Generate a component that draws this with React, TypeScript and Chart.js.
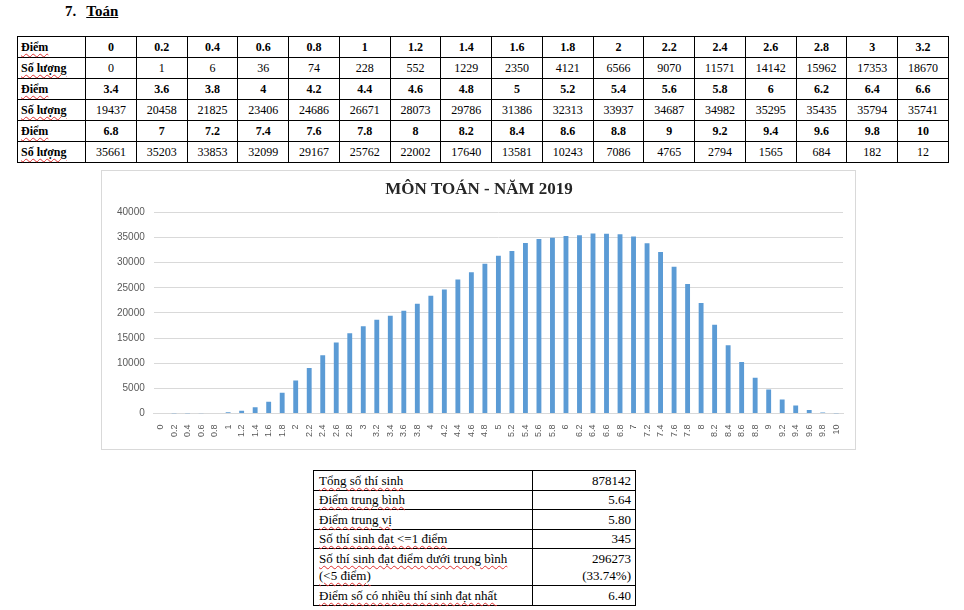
import React, { useEffect, useRef } from "react";
import { Chart, registerables } from "chart.js";

Chart.register(...registerables);

const headingNumber = "7.";
const headingText = "Toán";
const chartTitle = "MÔN TOÁN - NĂM 2019";
const rowLabelScore = "Điểm";
const rowLabelCount = "Số lượng";

const scoreLabels = [
  "0", "0.2", "0.4", "0.6", "0.8", "1", "1.2", "1.4", "1.6", "1.8", "2", "2.2", "2.4", "2.6", "2.8", "3", "3.2",
  "3.4", "3.6", "3.8", "4", "4.2", "4.4", "4.6", "4.8", "5", "5.2", "5.4", "5.6", "5.8", "6", "6.2", "6.4", "6.6",
  "6.8", "7", "7.2", "7.4", "7.6", "7.8", "8", "8.2", "8.4", "8.6", "8.8", "9", "9.2", "9.4", "9.6", "9.8", "10",
];

const studentCounts = [
  0, 1, 6, 36, 74, 228, 552, 1229, 2350, 4121, 6566, 9070, 11571, 14142, 15962, 17353, 18670,
  19437, 20458, 21825, 23406, 24686, 26671, 28073, 29786, 31386, 32313, 33937, 34687, 34982, 35295, 35435, 35794, 35741,
  35661, 35203, 33853, 32099, 29167, 25762, 22002, 17640, 13581, 10243, 7086, 4765, 2794, 1565, 684, 182, 12,
];

const yTickMax = 40000;
const yTickStep = 5000;

const summaryLabels = [
  ["Tổng số thí sinh"],
  ["Điểm trung bình"],
  ["Điểm trung vị"],
  ["Số thí sinh đạt <=1 điểm"],
  ["Số thí sinh đạt điểm dưới trung bình", "(<5 điểm)"],
  ["Điểm số có nhiều thí sinh đạt nhất"],
];
const summaryValues = [
  ["878142"],
  ["5.64"],
  ["5.80"],
  ["345"],
  ["296273", "(33.74%)"],
  ["6.40"],
];

const COLS_PER_BLOCK = 17;

const squiggle: React.CSSProperties = {
  textDecorationLine: "underline",
  textDecorationStyle: "wavy",
  textDecorationColor: "#e03030",
  textDecorationThickness: "1px",
  textUnderlineOffset: "2px",
};

const serif = '"Liberation Serif", "Times New Roman", serif';
const sans = '"Liberation Sans", Arial, sans-serif';

function ChartBox() {
  const ref = useRef<HTMLCanvasElement | null>(null);
  useEffect(() => {
    if (!ref.current) return;
    const chart = new Chart(ref.current, {
      type: "bar",
      data: {
        labels: scoreLabels,
        datasets: [
          {
            data: studentCounts,
            backgroundColor: "#5B9BD5",
            barPercentage: 0.36,
            categoryPercentage: 1,
          },
        ],
      },
      options: {
        animation: false,
        responsive: true,
        maintainAspectRatio: false,
        layout: { padding: { left: 13, right: 12, top: 0, bottom: 1 } },
        plugins: {
          legend: { display: false },
          tooltip: { enabled: false },
          title: {
            display: true,
            text: chartTitle,
            color: "#262626",
            font: { family: serif, size: 17, weight: "bold" },
            padding: { top: 8, bottom: 13 },
          },
        },
        scales: {
          x: {
            grid: { display: false, drawTicks: false },
            border: { display: true, color: "#d9d9d9" },
            afterFit: (scale: any) => {
              scale.paddingLeft = 0;
              scale.paddingRight = 0;
            },
            ticks: {
              autoSkip: false,
              maxRotation: 90,
              minRotation: 90,
              color: "#595959",
              padding: 11,
              font: { family: sans, size: 9 },
            },
          },
          y: {
            min: 0,
            max: yTickMax,
            border: { display: false },
            grid: { color: "#d9d9d9", drawTicks: false },
            afterFit: (scale: any) => {
              scale.width = Math.max(0, scale.width - 7);
            },
            ticks: {
              stepSize: yTickStep,
              color: "#595959",
              padding: 9,
              font: { family: sans, size: 10 },
              callback: (v: any) => String(v),
            },
          },
        },
      },
    });
    return () => chart.destroy();
  }, []);
  return (
    <div
      style={{
        position: "absolute",
        left: 101,
        top: 170,
        width: 755,
        height: 280,
        border: "1px solid #d9d9d9",
        boxSizing: "border-box",
        background: "#fff",
      }}
    >
      <div style={{ position: "relative", width: "100%", height: "100%" }}>
        <canvas ref={ref} />
      </div>
    </div>
  );
}

export default function App() {
  const blocks = [0, 1, 2].map((b) => ({
    scores: scoreLabels.slice(b * COLS_PER_BLOCK, (b + 1) * COLS_PER_BLOCK),
    counts: studentCounts.slice(b * COLS_PER_BLOCK, (b + 1) * COLS_PER_BLOCK),
  }));

  const cell: React.CSSProperties = {
    border: "1px solid #000",
    height: 20,
    padding: "0 3px",
    textAlign: "center",
    verticalAlign: "middle",
    fontSize: 12,
    lineHeight: "14px",
  };

  const sumCell: React.CSSProperties = {
    border: "1px solid #000",
    padding: "0 5px",
    lineHeight: "17px",
    verticalAlign: "middle",
    boxSizing: "border-box",
  };

  return (
    <div
      style={{
        position: "absolute",
        left: 0,
        top: 0,
        width: 964,
        height: 610,
        background: "#fff",
        fontFamily: serif,
        color: "#000",
        overflow: "hidden",
      }}
    >
      <div
        style={{
          position: "absolute",
          left: 65,
          top: 2,
          fontSize: 15,
          fontWeight: "bold",
          lineHeight: "18px",
        }}
      >
        <span>{headingNumber}</span>
        <span style={{ marginLeft: 10, textDecoration: "underline" }}>{headingText}</span>
      </div>

      <table
        style={{
          position: "absolute",
          left: 17,
          top: 36,
          width: 932,
          borderCollapse: "collapse",
          tableLayout: "fixed",
          fontFamily: serif,
        }}
      >
        <colgroup>
          <col style={{ width: 68 }} />
          {Array.from({ length: COLS_PER_BLOCK }).map((_, i) => (
            <col key={i} />
          ))}
        </colgroup>
        <tbody>
          {blocks.map((blk, bi) => (
            <React.Fragment key={bi}>
              <tr>
                <td style={{ ...cell, textAlign: "left", fontWeight: "bold" }}>
                  <span style={squiggle}>{rowLabelScore}</span>
                </td>
                {blk.scores.map((s, i) => (
                  <td key={i} style={{ ...cell, fontWeight: "bold" }}>
                    {s}
                  </td>
                ))}
              </tr>
              <tr>
                <td style={{ ...cell, textAlign: "left", fontWeight: "bold" }}>
                  <span style={squiggle}>{rowLabelCount}</span>
                </td>
                {blk.counts.map((c, i) => (
                  <td key={i} style={cell}>
                    {c}
                  </td>
                ))}
              </tr>
            </React.Fragment>
          ))}
        </tbody>
      </table>

      <ChartBox />

      <table
        style={{
          position: "absolute",
          left: 313,
          top: 470,
          width: 323,
          borderCollapse: "collapse",
          tableLayout: "fixed",
          fontFamily: serif,
          fontSize: 13,
        }}
      >
        <colgroup>
          <col style={{ width: 219 }} />
          <col />
        </colgroup>
        <tbody>
          {summaryLabels.map((lines, i) => (
            <tr key={i} style={{ height: lines.length > 1 ? 37 : 19.5 }}>
              <td style={sumCell}>
                {lines.map((l, j) => (
                  <div key={j}>
                    <span style={squiggle}>{l}</span>
                  </div>
                ))}
              </td>
              <td style={{ ...sumCell, textAlign: "right", padding: "0 4px" }}>
                {summaryValues[i].map((v, j) => (
                  <div key={j}>{v}</div>
                ))}
              </td>
            </tr>
          ))}
        </tbody>
      </table>
    </div>
  );
}
